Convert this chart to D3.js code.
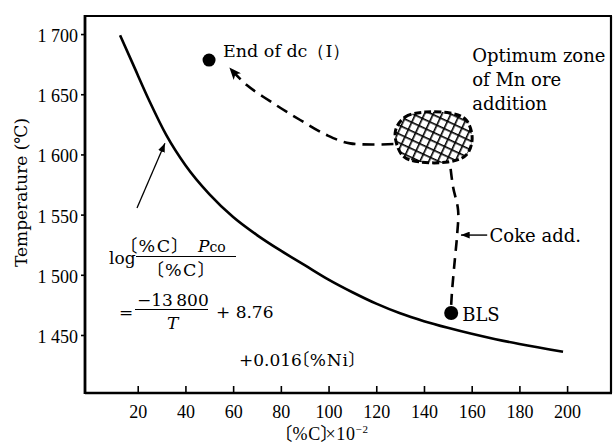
<!DOCTYPE html>
<html><head><meta charset="utf-8">
<script src="https://cdn.jsdelivr.net/npm/d3@7"></script>
<style>body{margin:0;background:#fff}svg{display:block}
.halt{font-feature-settings:"halt" 1, "palt" 1;}</style>
</head><body>
<svg id="chart" width="616" height="445"></svg>
<script>
// ---- data ----
const carbonTicks = [20, 40, 60, 80, 100, 120, 140, 160, 180, 200];
const tempTicks = [1450, 1500, 1550, 1600, 1650, 1700];
const tempTickLabels = ["1 450", "1 500", "1 550", "1 600", "1 650", "1 700"];

// equilibrium curve  (%C x10^-2, temperature °C)
const curveC = [12.6, 18, 25, 32, 40, 50, 60, 70, 80, 90, 100, 110, 120, 130, 140, 150, 160, 170, 180, 198.3];
const curveT = [1699, 1675, 1644, 1616, 1591, 1567, 1548, 1533, 1520, 1508, 1496, 1485.5, 1476, 1468, 1461.5, 1456, 1451, 1446.5, 1442.5, 1436];

// dashed decarburisation path from zone to end of dc
const dcPathC = [127.2, 109.0, 99.2, 88.1, 76.9, 65.7, 58.7];
const dcPathT = [1608.6, 1609.2, 1616.1, 1628.6, 1642.4, 1657.6, 1671.5];

// dashed coke-addition path from BLS up to zone
const cokePathC = [151.4, 151.8, 153.0, 153.9, 154.3, 152.2, 150.9];
const cokePathT = [1475, 1487.4, 1514.0, 1533.1, 1553.8, 1572.9, 1592.9];

// optimum zone outline
const zoneC = [127.9, 132.1, 140.5, 150.9, 157.7, 160.2, 157.7, 150.1, 138.4, 130.8];
const zoneT = [1617.8, 1631.1, 1635.2, 1634.4, 1628.6, 1613.6, 1599.5, 1593.7, 1593.7, 1599.5];

// labelled points
const pointNames = ["End of dc\uFF08I\uFF09", "BLS"];
const pointC = [49.9, 151.4];
const pointT = [1678.4, 1468.3];

// ---- scales ----
const x = d3.scaleLinear().domain([-2.1, 218.4]).range([85, 611]);
const y = d3.scaleLinear().domain([1401.8, 1715]).range([393, 16]);

const svg = d3.select("#chart");
const defs = svg.append("defs");

// cross hatch pattern
const pat = defs.append("pattern").attr("id", "hatch")
  .attr("patternUnits", "userSpaceOnUse").attr("width", 8).attr("height", 8)
  .attr("patternTransform", "rotate(25)");
pat.append("rect").attr("width", 8).attr("height", 8).attr("fill", "#fff");
pat.append("line").attr("x1", 0).attr("y1", 0).attr("x2", 8).attr("y2", 0).attr("stroke", "#000").attr("stroke-width", 3.2);
pat.append("line").attr("x1", 0).attr("y1", 0).attr("x2", 0).attr("y2", 8).attr("stroke", "#000").attr("stroke-width", 3.2);

defs.append("marker").attr("id", "arrowBig").attr("viewBox", "0 0 12 10")
  .attr("refX", 11).attr("refY", 5).attr("markerWidth", 12).attr("markerHeight", 10)
  .attr("markerUnits", "userSpaceOnUse").attr("orient", "auto")
  .append("path").attr("d", "M0,0 L12,5 L0,10 L3,5 Z").attr("fill", "#000");
defs.append("marker").attr("id", "arrowSmall").attr("viewBox", "0 0 10 8")
  .attr("refX", 10).attr("refY", 4).attr("markerWidth", 9).attr("markerHeight", 7)
  .attr("markerUnits", "userSpaceOnUse").attr("orient", "auto")
  .append("path").attr("d", "M0,0 L10,4 L0,8 Z").attr("fill", "#000");

// helper: rich text from parts; CJK brackets use half-width forms
function rich(parent, px, py, parts, size, family, anchor, spacing) {
  const t = parent.append("text").attr("x", px).attr("y", py).attr("class", "halt")
    .attr("font-family", `${family}, "Noto Sans CJK JP"`).attr("font-size", size);
  if (spacing) t.attr("letter-spacing", spacing);
  parts.forEach(p => {
    const s = t.append("tspan").text(p.t);
    if (p.dy) s.attr("dy", p.dy);
    if (p.italic) s.attr("font-style", "italic");
    s.attr("font-size", p.size || size);
  });
  if (anchor === "middle") {
    const w = t.node().getBBox().width;
    t.attr("x", px - w / 2);
  }
  return t;
}

// ---- axes ----
const xAxis = d3.axisBottom(x).tickValues(carbonTicks).tickSizeInner(-7).tickSizeOuter(0).tickPadding(12);
const gx = svg.append("g").attr("transform", `translate(0,${y.range()[0]})`).call(xAxis);
gx.select(".domain").remove();
gx.selectAll(".tick line").attr("stroke-width", 1.6);
gx.selectAll("text").attr("font-family", "Liberation Serif").attr("font-size", 18).attr("fill", "#000");

const yAxis = d3.axisLeft(y).tickValues(tempTicks).tickFormat((d, i) => tempTickLabels[i]).tickSizeInner(4).tickSizeOuter(0).tickPadding(3);
const gy = svg.append("g").attr("transform", `translate(${x.range()[0]},0)`).call(yAxis);
gy.select(".domain").remove();
gy.selectAll(".tick line").attr("stroke-width", 1.6);
gy.selectAll("text").attr("font-family", "Liberation Serif").attr("font-size", 18).attr("fill", "#000").attr("dy", "0.42em");

// frame
const [x0, x1] = x.range(), [y0, y1] = y.range();
svg.append("line").attr("x1", x0).attr("x2", x0).attr("y1", y1 - 1).attr("y2", y0 + 1).attr("stroke", "#000").attr("stroke-width", 2.8);
svg.append("line").attr("x1", x0).attr("x2", x1 + 1).attr("y1", y0).attr("y2", y0).attr("stroke", "#000").attr("stroke-width", 2.4);
svg.append("line").attr("x1", x0).attr("x2", x1 + 1).attr("y1", y1).attr("y2", y1).attr("stroke", "#000").attr("stroke-width", 2.2);
svg.append("line").attr("x1", x1).attr("x2", x1).attr("y1", y1).attr("y2", y0).attr("stroke", "#000").attr("stroke-width", 2.2);

// axis titles
svg.append("text").attr("transform", `translate(27,${(y(1700) + y(1450)) / 2 + 8}) rotate(-90)`)
  .attr("text-anchor", "middle").attr("font-family", "DejaVu Serif").attr("font-size", 17)
  .text("Temperature (\u2103)");
rich(svg, 333, 440, [
  { t: "\u3014%C\u3015\u2009\u00D710" }, { t: "\u22122", size: 11, dy: -7 }
], 18, "Liberation Serif", "middle", 0.6);

// ---- marks ----
svg.append("path").datum(curveC.map((c, i) => [c, curveT[i]]))
  .attr("d", d3.line().x(d => x(d[0])).y(d => y(d[1])).curve(d3.curveMonotoneX))
  .attr("fill", "none").attr("stroke", "#000").attr("stroke-width", 2.6);

// optimum zone
svg.append("path").datum(zoneC.map((c, i) => [c, zoneT[i]]))
  .attr("d", d3.line().x(d => x(d[0])).y(d => y(d[1])).curve(d3.curveCardinalClosed))
  .attr("fill", "url(#hatch)").attr("stroke", "#000").attr("stroke-width", 3).attr("stroke-dasharray", "7,3");

// dc path
svg.append("path").datum(dcPathC.map((c, i) => [c, dcPathT[i]]))
  .attr("d", d3.line().x(d => x(d[0])).y(d => y(d[1])).curve(d3.curveCatmullRom))
  .attr("fill", "none").attr("stroke", "#000").attr("stroke-width", 2.6).attr("stroke-dasharray", "12,7")
  .attr("marker-end", "url(#arrowBig)");

// coke path
svg.append("path").datum(cokePathC.map((c, i) => [c, cokePathT[i]]))
  .attr("d", d3.line().x(d => x(d[0])).y(d => y(d[1])).curve(d3.curveCatmullRom))
  .attr("fill", "none").attr("stroke", "#000").attr("stroke-width", 2.6).attr("stroke-dasharray", "11,7");

// points
svg.selectAll("circle.pt").data(pointC).join("circle").attr("class", "pt")
  .attr("cx", d => x(d)).attr("cy", (d, i) => y(pointT[i])).attr("r", (d, i) => i === 0 ? 6.5 : 7).attr("fill", "#000");

svg.append("text").attr("x", x(pointC[0]) + 14).attr("y", y(pointT[0]) - 3)
  .attr("font-family", "DejaVu Serif").attr("font-size", 17.5).text(pointNames[0]);
svg.append("text").attr("x", x(pointC[1]) + 11).attr("y", y(pointT[1]) + 8)
  .attr("font-family", "DejaVu Serif").attr("font-size", 18).text(pointNames[1]);

// optimum zone label
const zoneLines = ["Optimum zone", "of Mn ore", "addition"];
svg.append("g").selectAll("text").data(zoneLines).join("text")
  .attr("x", x(160.2)).attr("y", (d, i) => y(1677) + i * 24)
  .attr("font-family", "DejaVu Serif").attr("font-size", 18).text(d => d);

// coke add label with arrow
svg.append("line").attr("x1", x(166.5)).attr("y1", y(1533)).attr("x2", x(155.5)).attr("y2", y(1533))
  .attr("stroke", "#000").attr("stroke-width", 1.4).attr("marker-end", "url(#arrowSmall)");
svg.append("text").attr("x", x(167.5)).attr("y", y(1533) + 7)
  .attr("font-family", "DejaVu Serif").attr("font-size", 18).text("Coke add.");

// formula arrow
svg.append("line").attr("x1", x(19.7)).attr("y1", y(1555.5)).attr("x2", x(31.4)).attr("y2", y(1609.2))
  .attr("stroke", "#000").attr("stroke-width", 1.3).attr("marker-end", "url(#arrowSmall)");

// formula
const F = "DejaVu Serif";
const fg = svg.append("g");
rich(fg, 109, 264, [{ t: "log" }], 17, F);
rich(fg, 137, 252, [{ t: "\u3014%C\u3015" }], 17.5, F, null, 1.5);
rich(fg, 198, 252, [{ t: "P", italic: true }, { t: "co", size: 14 }], 17, F);
fg.append("line").attr("x1", 136).attr("x2", 236).attr("y1", 256.5).attr("y2", 256.5).attr("stroke", "#000").attr("stroke-width", 1);
rich(fg, 186, 276, [{ t: "\u3014%C\u3015" }], 17.5, F, "middle", 1.5);
rich(fg, 119, 318, [{ t: "=" }], 17, F);
rich(fg, 137, 306, [{ t: "\u221213\u2009800" }], 17, F);
fg.append("line").attr("x1", 135).attr("x2", 208).attr("y1", 309.5).attr("y2", 309.5).attr("stroke", "#000").attr("stroke-width", 1);
rich(fg, 167, 329, [{ t: "T", italic: true }], 17, F);
rich(fg, 216, 318, [{ t: "+ 8.76" }], 17, F);
rich(fg, 239, 366, [{ t: "+0.016" }], 17, F);
rich(fg, 309, 366, [{ t: "\u3014%Ni\u3015" }], 17, F, null, 0.8);
</script>
</body></html>
